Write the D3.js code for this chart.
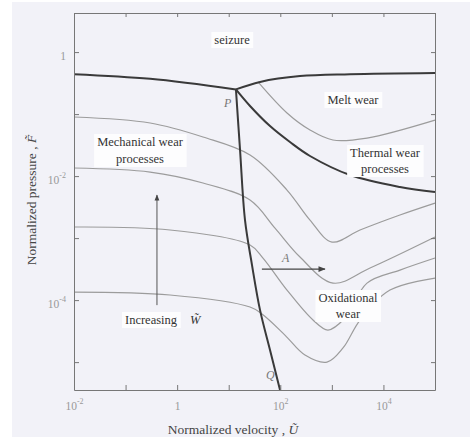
<!DOCTYPE html>
<html>
<head>
<meta charset="utf-8">
<script src="https://cdn.jsdelivr.net/npm/d3@7"></script>
<style>
  body { margin: 0; background: #fff; }
  svg { display: block; }
  text { font-family: "Liberation Serif", "DejaVu Serif", serif; }
</style>
</head>
<body>
<svg id="chart"></svg>
<script>
// axis ticks (decades)
const xDecades = [1e-2, 1e-1, 1, 1e1, 1e2, 1e3, 1e4, 1e5];
const xLabels = {"0.01": ["10", "-2"], "1": ["1", ""], "100": ["10", "2"], "10000": ["10", "4"]};
const yDecades = [1, 1e-1, 1e-2, 1e-3, 1e-4, 1e-5];
const yLabels = {"1": ["1", ""], "0.01": ["10", "-2"], "0.0001": ["10", "-4"]};

// regime boundaries (normalized velocity U, normalized pressure F)
const seizureLeftU = [0.01, 0.30, 13.8];
const seizureLeftP = [0.44, 0.37, 0.25];
const seizureRightU = [13.8, 40.5, 241, 2250, 1e5];
const seizureRightP = [0.25, 0.33, 0.41, 0.44, 0.46];
const transitionU = [13.8, 16.6, 20.7, 28.3, 40.5, 63.2, 98.8];
const transitionP = [0.25, 0.026, 1.95e-3, 3.67e-4, 6.9e-5, 1.57e-5, 3.54e-6];
const thermalU = [13.8, 25.9, 63.2, 154, 377, 2250, 20900, 1e5];
const thermalP = [0.25, 0.135, 0.064, 0.0354, 0.0211, 0.0104, 6.67e-3, 5.53e-3];
const meltU = [37, 135, 377, 1050, 4800, 1e5];
const meltP = [0.33, 0.104, 0.0553, 0.0382, 0.0411, 0.080];

// wear-rate contours
const c1U = [0.01, 0.30, 3.17, 25.9, 135, 377, 1007, 3515, 20900, 1e5];
const c1P = [0.0897, 0.0718, 0.0427, 0.0219, 5.96e-3, 1.95e-3, 8.63e-4, 1.35e-3, 2.36e-3, 3.67e-3];
const c2U = [0.01, 0.30, 3.17, 25.9, 79, 241, 1050, 5500, 1e5];
const c2P = [0.0135, 0.0116, 7.73e-3, 4.11e-3, 1.45e-3, 4.95e-4, 1.88e-4, 3.29e-4, 1.04e-3];
const c3U = [0.01, 0.728, 25.9, 46.2, 135, 431, 841, 1800, 4800, 20900, 1e5];
const c3P = [1.51e-3, 1.35e-3, 7.73e-4, 4.77e-4, 1.45e-4, 4.77e-5, 3.29e-5, 5.14e-5, 1.88e-4, 3.05e-4, 4.77e-4];
const c4U = [0.01, 0.728, 25.9, 44.2, 123, 301, 805, 1645, 3515, 13400, 1e5];
const c4P = [1.35e-4, 1.21e-4, 7.73e-5, 5.96e-5, 2.73e-5, 1.30e-5, 1.0e-5, 1.69e-5, 4.77e-5, 1.45e-4, 2.27e-4];

// annotation arrows
const arrowAU = [44, 736];
const arrowAP = [3.17e-4, 3.17e-4];
const arrowUpU = [0.406, 0.406];
const arrowUpP = [8.3e-5, 4.95e-3];

const margin = {top: 13, right: 35, bottom: 49, left: 74};
const width = 470 - margin.left - margin.right;
const height = 439 - margin.top - margin.bottom;

const svg = d3.select('#chart').attr('width', 470).attr('height', 439);

svg.append('rect').attr('width', 470).attr('height', 439).attr('fill', '#fff');
svg.append('rect').attr('x', 12).attr('y', 2).attr('width', 458).attr('height', 435).attr('fill', '#f2f2f8');

const defs = svg.append('defs');
defs.append('marker').attr('id', 'head')
  .attr('viewBox', '0 0 10 10').attr('refX', 9).attr('refY', 5)
  .attr('markerWidth', 7).attr('markerHeight', 6).attr('orient', 'auto')
  .append('path').attr('d', 'M0,1 L10,5 L0,9 z').attr('fill', '#444');

const g = svg.append('g').attr('transform', `translate(${margin.left}, ${margin.top})`);

const x = d3.scaleLog().domain([1e-2, 1e5]).range([0, width]);
const y = d3.scaleLog().domain([3.55e-6, 4.27]).range([height, 0]);

const zip = (us, ps) => us.map((u, i) => [u, ps[i]]);
const line = d3.line().x(d => x(d[0])).y(d => y(d[1])).curve(d3.curveCatmullRom.alpha(0.5));

// thin contours
[[c1U, c1P], [c2U, c2P], [c3U, c3P], [c4U, c4P], [meltU, meltP]].forEach(([us, ps]) => {
  g.append('path').datum(zip(us, ps)).attr('d', line)
    .attr('fill', 'none').attr('stroke', '#9c9c9c').attr('stroke-width', 1.2);
});

// thick regime boundaries
[[seizureLeftU, seizureLeftP], [seizureRightU, seizureRightP], [transitionU, transitionP], [thermalU, thermalP]].forEach(([us, ps]) => {
  g.append('path').datum(zip(us, ps)).attr('d', line)
    .attr('fill', 'none').attr('stroke', '#3a3a3a').attr('stroke-width', 2);
});

// axes with inward ticks
function supLabels(sel, map) {
  sel.selectAll('.tick text').each(function(d) {
    const t = d3.select(this);
    const lab = map[String(d)];
    t.text(null);
    if (!lab) return;
    t.append('tspan').text(lab[0]);
    if (lab[1]) t.append('tspan').attr('dy', '-6').attr('font-size', 8).text(lab[1]);
  });
}
function styleAxis(sel) {
  sel.select('.domain').attr('stroke', '#777');
  sel.selectAll('.tick line').attr('stroke', '#777');
  sel.selectAll('.tick text').attr('fill', '#999').attr('font-size', 11.5)
    .attr('font-family', '"Liberation Serif", serif');
}

const xAxisG = g.append('g').attr('transform', `translate(0, ${height})`)
  .call(d3.axisBottom(x).tickValues(xDecades).tickSizeInner(-5).tickSizeOuter(0).tickPadding(12).tickFormat(d => d));
styleAxis(xAxisG);
supLabels(xAxisG, xLabels);

const yAxisG = g.append('g')
  .call(d3.axisLeft(y).tickValues(yDecades).tickSizeInner(-5).tickSizeOuter(0).tickPadding(8).tickFormat(d => d));
styleAxis(yAxisG);
supLabels(yAxisG, yLabels);
yAxisG.selectAll('.tick text').attr('dy', '0.65em');

const topG = g.append('g')
  .call(d3.axisTop(x).tickValues(xDecades).tickSizeInner(-4).tickSizeOuter(0).tickFormat(''));
styleAxis(topG);
const rightG = g.append('g').attr('transform', `translate(${width}, 0)`)
  .call(d3.axisRight(y).tickValues(yDecades).tickSizeInner(-4).tickSizeOuter(0).tickFormat(''));
styleAxis(rightG);

// region labels with light boxes
function boxLabel(lines, cx, cy, lh) {
  const lg = g.append('g');
  const t = lg.append('text').attr('text-anchor', 'middle').attr('font-size', 12.5).attr('fill', '#333');
  lines.forEach((s, i) => t.append('tspan').attr('x', cx).attr('y', cy + i * lh).text(s));
  const b = t.node().getBBox();
  lg.insert('rect', 'text').attr('x', b.x - 3).attr('y', b.y - 1)
    .attr('width', b.width + 6).attr('height', b.height + 2).attr('fill', '#fdfdfe');
}
boxLabel(['seizure'], 158, 31, 0);
boxLabel(['Melt wear'], 279, 91, 0);
boxLabel(['Thermal wear', 'processes'], 311, 144, 16);
boxLabel(['Mechanical wear', 'processes'], 66, 133, 17);
boxLabel(['Oxidational', 'wear'], 274, 289, 16);
boxLabel(['Increasing'], 77, 311, 0);

g.append('text').attr('x', 116).attr('y', 311).attr('font-size', 12.5).attr('font-style', 'italic')
  .attr('fill', '#333').text('W\u0303');

// point labels
[['P', 150, 94], ['A', 208, 249], ['Q', 192, 366]].forEach(([s, px, py]) => {
  g.append('text').attr('x', px).attr('y', py).attr('font-size', 12)
    .attr('font-style', 'italic').attr('fill', '#777').text(s);
});

// arrows
g.append('path').datum(zip(arrowAU, arrowAP)).attr('d', d3.line().x(d => x(d[0])).y(d => y(d[1])))
  .attr('stroke', '#444').attr('stroke-width', 1.2).attr('marker-end', 'url(#head)');
g.append('path').datum(zip(arrowUpU, arrowUpP)).attr('d', d3.line().x(d => x(d[0])).y(d => y(d[1])))
  .attr('stroke', '#555').attr('stroke-width', 1).attr('marker-end', 'url(#head)');

// axis titles
g.append('text').attr('x', 159).attr('y', height + 44).attr('text-anchor', 'middle')
  .attr('font-size', 13.5).attr('fill', '#444')
  .text('Normalized velocity , ')
  .append('tspan').attr('font-style', 'italic').text('U\u0303');

g.append('text').attr('transform', `translate(-38, 187) rotate(-90)`).attr('text-anchor', 'middle')
  .attr('font-size', 13.5).attr('fill', '#444')
  .text('Normalized pressure , ')
  .append('tspan').attr('font-style', 'italic').text('F\u0303');
</script>
</body>
</html>
